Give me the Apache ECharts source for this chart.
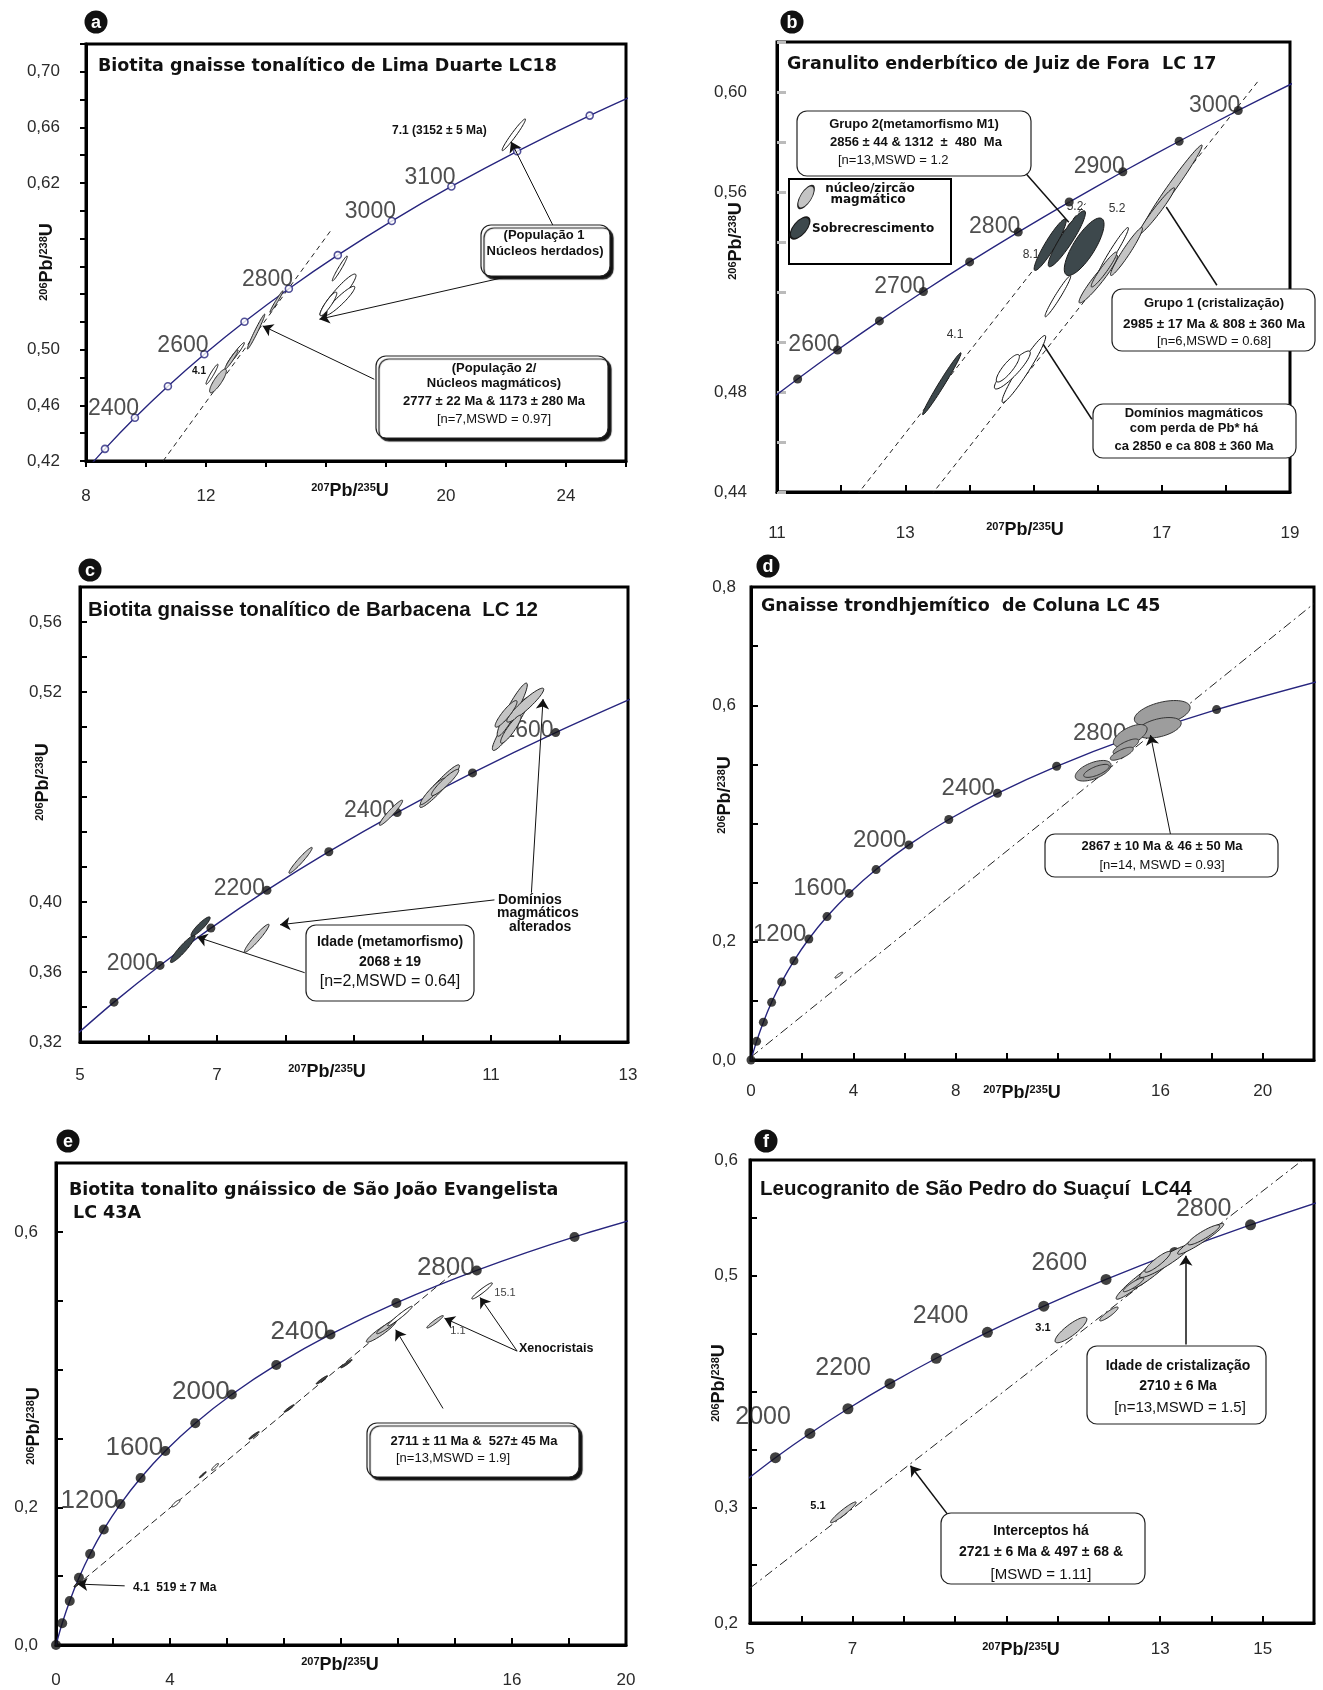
<!DOCTYPE html>
<html>
<head>
<meta charset="utf-8">
<script src="https://cdn.jsdelivr.net/npm/echarts@6.0.0/dist/echarts.min.js"></script>
<style>
  html, body { margin: 0; padding: 0; background: #fff; }
  #chart { width: 1323px; height: 1690px; }
</style>
</head>
<body>
<div id="chart"></div>
<script>
// concordia reference points: age (Ma), 207Pb/235U, 206Pb/238U
const AGE = [0, 200, 400, 600, 800, 1000, 1200, 1400, 1600, 1800, 1900, 2000, 2100, 2200, 2300, 2400, 2500, 2550, 2600, 2650, 2700, 2750, 2800, 2850, 2900, 2950, 3000, 3050, 3100, 3200, 3300, 3400];
const PB207_U235 = [0, 0.2177, 0.4828, 0.8056, 1.1987, 1.6774, 2.2603, 2.9701, 3.8344, 4.8869, 5.4962, 6.1683, 6.9105, 7.7292, 8.6326, 9.6300, 10.730, 11.322, 11.944, 12.597, 13.283, 14.004, 14.762, 15.557, 16.393, 17.271, 18.193, 19.162, 20.180, 22.372, 24.790, 27.460];
const PB206_U238 = [0, 0.03151, 0.06402, 0.09754, 0.13213, 0.16780, 0.20461, 0.24256, 0.28172, 0.32210, 0.34278, 0.36375, 0.38509, 0.40674, 0.42873, 0.45109, 0.47375, 0.48522, 0.49679, 0.50845, 0.52019, 0.53203, 0.54396, 0.55598, 0.56810, 0.58030, 0.59261, 0.60501, 0.61751, 0.64280, 0.66848, 0.69456];

// --- panel a : Lima Duarte LC18
const aCurveAges = [2200, 2300, 2400, 2500, 2600, 2700, 2800, 2900, 3000, 3100, 3200, 3300, 3400];
const aMarkerAges = [2300, 2400, 2500, 2600, 2700, 2800, 2900, 3000, 3100, 3200, 3300];
const aLabelAges = [2400, 2600, 2800, 3000, 3100];
const aXLabels = [8, 12, 20, 24];
const aYLabels = [0.42, 0.46, 0.50, 0.62, 0.66, 0.70];
// [x, y, half-range x, half-range y, rho, kind]
const aEllipses = [
  [22.26, 0.6547, 0.39, 0.0114, 0.97, 'open'],
  [16.46, 0.5585, 0.25, 0.0090, 0.97, 'open'],
  [16.40, 0.5395, 0.60, 0.0150, 0.93, 'open'],
  [16.46, 0.5352, 0.50, 0.0105, 0.93, 'open'],
  [16.08, 0.5330, 0.28, 0.0085, 0.90, 'open'],
  [14.35, 0.5347, 0.22, 0.0078, 0.98, 'light'],
  [13.67, 0.5131, 0.29, 0.0126, 0.98, 'light'],
  [12.98, 0.4968, 0.30, 0.0084, 0.97, 'open'],
  [12.85, 0.4930, 0.22, 0.0070, 0.96, 'light'],
  [12.20, 0.4824, 0.20, 0.0072, 0.95, 'open'],
  [12.40, 0.4776, 0.28, 0.0085, 0.85, 'light']
];
const aDiscordia = [[[10.57, 0.42], [16.2, 0.587]]];
const aArrows = [
  [23.56, 0.5897, 22.17, 0.6497, 1],
  [22.41, 0.5544, 15.78, 0.5220, 1],
  [17.61, 0.4788, 13.89, 0.5172, 1]
];

// --- panel b : Juiz de Fora LC 17
const bCurveAges = [2500, 2550, 2600, 2650, 2700, 2750, 2800, 2850, 2900, 2950, 3000, 3050];
const bMarkerAges = [2550, 2600, 2650, 2700, 2750, 2800, 2850, 2900, 2950, 3000];
const bLabelAges = [2600, 2700, 2800, 2900, 3000];
const bXLabels = [11, 13, 17, 19];
const bYLabels = [0.44, 0.48, 0.56, 0.60];
const bEllipses = [
  [17.17, 0.5623, 0.46, 0.0165, 0.985, 'light'],
  [16.92, 0.5524, 0.28, 0.0093, 0.97, 'light'],
  [16.45, 0.5362, 0.25, 0.0096, 0.96, 'light'],
  [16.01, 0.5252, 0.30, 0.0096, 0.95, 'light'],
  [16.23, 0.5355, 0.25, 0.0103, 0.97, 'open'],
  [16.10, 0.5290, 0.20, 0.0070, 0.95, 'light'],
  [15.38, 0.5183, 0.20, 0.0082, 0.97, 'open'],
  [14.85, 0.4892, 0.34, 0.0134, 0.96, 'open'],
  [14.67, 0.4888, 0.28, 0.0076, 0.90, 'open'],
  [14.60, 0.4895, 0.18, 0.0055, 0.85, 'open'],
  [13.57, 0.4833, 0.30, 0.0124, 0.985, 'dark'],
  [15.26, 0.5389, 0.25, 0.0103, 0.93, 'dark'],
  [15.52, 0.5413, 0.29, 0.0112, 0.92, 'dark'],
  [15.79, 0.5381, 0.31, 0.0115, 0.78, 'dark']
];
const bDiscordia = [[[12.24, 0.4386], [15.81, 0.5554]], [[13.40, 0.4386], [18.52, 0.6049]]];
const bArrows = [
  [14.49, 0.5788, 15.55, 0.5479, 0],
  [17.86, 0.5227, 17.07, 0.5540, 0],
  [15.91, 0.4691, 15.15, 0.4991, 0]
];

// --- panel c : Barbacena LC 12
const cCurveAges = [1800, 1900, 2000, 2100, 2200, 2300, 2400, 2500, 2600, 2700];
const cMarkerAges = [1900, 2000, 2100, 2200, 2300, 2400, 2500, 2600];
const cLabelAges = [2000, 2200, 2400, 2600];
const cXLabels = [5, 7, 11, 13];
const cYLabels = [0.32, 0.36, 0.40, 0.52, 0.56];
const cEllipses = [
  [6.50, 0.3732, 0.18, 0.0078, 0.93, 'dark'],
  [6.76, 0.3860, 0.14, 0.0055, 0.90, 'dark'],
  [7.58, 0.3793, 0.18, 0.0080, 0.95, 'light'],
  [8.22, 0.4238, 0.17, 0.0074, 0.96, 'light'],
  [9.54, 0.4510, 0.17, 0.0072, 0.95, 'light'],
  [10.25, 0.4662, 0.29, 0.0122, 0.95, 'light'],
  [10.15, 0.4632, 0.18, 0.0075, 0.93, 'light'],
  [10.33, 0.4683, 0.20, 0.0075, 0.93, 'light'],
  [11.29, 0.5018, 0.27, 0.0152, 0.93, 'light'],
  [11.31, 0.5099, 0.22, 0.0152, 0.93, 'light'],
  [11.50, 0.5125, 0.27, 0.0097, 0.93, 'light'],
  [11.22, 0.5075, 0.16, 0.0076, 0.90, 'light'],
  [11.29, 0.4987, 0.15, 0.0080, 0.90, 'light']
];
const cDiscordia = [];
const cArrows = [
  [8.28, 0.3596, 6.71, 0.3800, 1],
  [11.05, 0.4012, 7.92, 0.3870, 1],
  [11.59, 0.4053, 11.76, 0.5160, 1]
];

// --- panel d : Coluna LC 45
const dCurveAges = [0, 200, 400, 600, 800, 1000, 1200, 1400, 1600, 1800, 2000, 2200, 2400, 2600, 2800, 3000, 3200];
const dMarkerAges = [0, 200, 400, 600, 800, 1000, 1200, 1400, 1600, 1800, 2000, 2200, 2400, 2600, 2800, 3000];
const dLabelAges = [1200, 1600, 2000, 2400, 2800];
const dXLabels = [0, 4, 8, 16, 20];
const dYLabels = [0.0, 0.2, 0.6, 0.8];
const dEllipses = [
  [16.07, 0.5862, 1.09, 0.0218, 0.45, 'mid'],
  [15.94, 0.5618, 0.87, 0.0174, 0.45, 'mid'],
  [14.82, 0.5485, 0.66, 0.0189, 0.60, 'mid'],
  [14.65, 0.5300, 0.50, 0.0130, 0.75, 'mid'],
  [14.49, 0.5180, 0.45, 0.0110, 0.75, 'mid'],
  [13.37, 0.4892, 0.70, 0.0174, 0.55, 'mid'],
  [13.50, 0.4890, 0.50, 0.0110, 0.70, 'mid'],
  [3.43, 0.1435, 0.15, 0.0050, 0.90, 'open']
];
const dDiscordia = [[[0, 0.005], [22, 0.772]]];
const dArrows = [[16.39, 0.3822, 15.61, 0.5497, 1]];

// --- panel e : Sao Joao Evangelista LC 43A
const eCurveAges = [0, 200, 400, 600, 800, 1000, 1200, 1400, 1600, 1800, 2000, 2200, 2400, 2600, 2800, 3000, 3200];
const eMarkerAges = [0, 200, 400, 600, 800, 1000, 1200, 1400, 1600, 1800, 2000, 2200, 2400, 2600, 2800, 3000];
const eLabelAges = [1200, 1600, 2000, 2400, 2800];
const eXLabels = [0, 4, 16, 20];
const eYLabels = [0.0, 0.2, 0.6];
const eEllipses = [
  [11.41, 0.4553, 0.52, 0.0156, 0.93, 'light'],
  [11.65, 0.4640, 0.40, 0.0120, 0.95, 'light'],
  [12.07, 0.4777, 0.43, 0.0143, 0.97, 'open'],
  [10.19, 0.4085, 0.20, 0.0060, 0.95, 'black'],
  [9.33, 0.3850, 0.20, 0.0060, 0.95, 'black'],
  [8.18, 0.3435, 0.18, 0.0055, 0.95, 'black'],
  [6.95, 0.3044, 0.18, 0.0055, 0.95, 'black'],
  [5.58, 0.2586, 0.12, 0.0050, 0.90, 'open'],
  [5.15, 0.2472, 0.12, 0.0045, 0.95, 'black'],
  [4.21, 0.2056, 0.14, 0.0050, 0.85, 'open'],
  [0.75, 0.0885, 0.12, 0.0045, 0.90, 'black'],
  [14.95, 0.5142, 0.36, 0.0117, 0.95, 'open'],
  [13.30, 0.4694, 0.29, 0.0091, 0.95, 'light']
];
const eDiscordia = [[[0.68, 0.085], [13.9, 0.539]]];
const eArrows = [
  [16.18, 0.4268, 14.88, 0.5048, 1],
  [16.18, 0.4268, 13.63, 0.4746, 1],
  [13.58, 0.3435, 11.92, 0.4579, 1],
  [2.41, 0.0859, 0.75, 0.0885, 1]
];

// --- panel f : Sao Pedro do Suacui LC44
const fCurveAges = [1800, 1900, 2000, 2100, 2200, 2300, 2400, 2500, 2600, 2700, 2800, 2900];
const fMarkerAges = [1900, 2000, 2100, 2200, 2300, 2400, 2500, 2600, 2700, 2800];
const fLabelAges = [2000, 2200, 2400, 2600, 2800];
const fXLabels = [5, 7, 13, 15];
const fYLabels = [0.2, 0.3, 0.5, 0.6];
const fEllipses = [
  [6.82, 0.2956, 0.25, 0.0090, 0.95, 'light'],
  [11.26, 0.4531, 0.31, 0.0110, 0.85, 'light'],
  [12.00, 0.4670, 0.18, 0.0060, 0.90, 'light'],
  [12.57, 0.4953, 0.43, 0.0156, 0.95, 'light'],
  [12.89, 0.5053, 0.45, 0.0164, 0.95, 'light'],
  [13.09, 0.5125, 0.49, 0.0140, 0.93, 'light'],
  [13.79, 0.5319, 0.45, 0.0133, 0.95, 'light'],
  [13.85, 0.5353, 0.31, 0.0086, 0.90, 'light'],
  [12.95, 0.5120, 0.25, 0.0090, 0.90, 'light'],
  [12.48, 0.4922, 0.20, 0.0060, 0.90, 'light']
];
const fDiscordia = [[[5, 0.2302], [15.78, 0.6]]];
const fArrows = [
  [13.50, 0.4406, 13.50, 0.5172, 1],
  [8.91, 0.2906, 8.13, 0.3359, 1]
];

// ---------------------------------------------------------------
const SANS = "'Liberation Sans', Arial, sans-serif";
const WIDE = "'DejaVu Sans', sans-serif";
const CURVE = '#27257e';
const ELL = {
  open: { fill: '#ffffff', stroke: '#111', lw: 1 },
  light: { fill: '#c4c4c4', stroke: '#222', lw: 1 },
  dark: { fill: '#3d484c', stroke: '#1a1a1a', lw: 1 },
  mid: { fill: '#9d9d9d', stroke: '#333', lw: 1 },
  black: { fill: '#444', stroke: '#111', lw: 1 }
};

function conc(age) {
  const i = AGE.indexOf(age);
  return [PB207_U235[i], PB206_U238[i]];
}
function near(list, v) {
  return list.some(s => Math.abs(s - v) < 1e-6);
}

const panels = [
  { box: [86, 44, 626, 461], x: [8, 26, 2], y: [0.42, 0.72, 0.02], dec: 2, tickIn: false, xm: 27, ym: 26,
    curve: aCurveAges, markers: aMarkerAges, labels: aLabelAges, xl: aXLabels, yl: aYLabels,
    ell: aEllipses, disc: aDiscordia, arrows: aArrows, open: true, msize: 7, lfs: 23, loff: [8.5, -9], dash: [5, 4] },
  { box: [777, 42, 1290, 492], x: [11, 19, 1], y: [0.44, 0.62, 0.02], dec: 2, tickIn: true, xm: 33, ym: 30, ytickColor: '#bbb',
    curve: bCurveAges, markers: bMarkerAges, labels: bLabelAges, xl: bXLabels, yl: bYLabels,
    ell: bEllipses, disc: bDiscordia, arrows: bArrows, open: false, msize: 9, lfs: 23, loff: [6.5, -5], dash: [5, 4], arrowW: 1.5 },
  { box: [80, 587, 628, 1042], x: [5, 13, 1], y: [0.32, 0.58, 0.02], dec: 2, tickIn: true, xm: 25, ym: 18,
    curve: cCurveAges, markers: cMarkerAges, labels: cLabelAges, xl: cXLabels, yl: cYLabels,
    ell: cEllipses, disc: cDiscordia, arrows: cArrows, open: false, msize: 9, lfs: 23, loff: [2.5, -2], dash: [5, 4] },
  { box: [751, 587, 1314, 1060], x: [0, 22, 2], y: [0, 0.8, 0.1], dec: 1, tickIn: true, xm: 23, ym: 15,
    curve: dCurveAges, markers: dMarkerAges, labels: dLabelAges, xl: dXLabels, yl: dYLabels,
    ell: dEllipses, disc: dDiscordia, arrows: dArrows, open: false, msize: 9, lfs: 24, loff: [2, -5], dash: [9, 4, 2, 4] },
  { box: [56, 1163, 626, 1645], x: [0, 20, 2], y: [0, 0.7, 0.1], dec: 1, tickIn: true, xm: 27, ym: 18,
    curve: eCurveAges, markers: eMarkerAges, labels: eLabelAges, xl: eXLabels, yl: eYLabels,
    ell: eEllipses, disc: eDiscordia, arrows: eArrows, open: false, msize: 10, lfs: 26, loff: [3, -3], dash: [7, 4] },
  { box: [750, 1160, 1314, 1623], x: [5, 16, 1], y: [0.2, 0.6, 0.05], dec: 1, tickIn: true, xm: 18, ym: 12,
    curve: fCurveAges, markers: fMarkerAges, labels: fLabelAges, xl: fXLabels, yl: fYLabels,
    ell: fEllipses, disc: fDiscordia, arrows: fArrows, open: false, msize: 11, lfs: 25, loff: [-13.5, -16], dash: [9, 4, 2, 4], arrowW: 1.5 }
];

const grids = [], xAxes = [], yAxes = [], series = [];
panels.forEach((c, p) => {
  const [L, T, R, B] = c.box;
  grids.push({ left: L, top: T, width: R - L, height: B - T, show: true, borderColor: '#000', borderWidth: 3,
    backgroundColor: 'transparent', containLabel: false, outerBoundsMode: 'none' });
  const tick = { show: true, inside: c.tickIn, length: c.tickIn ? 7 : 6, lineStyle: { color: '#000', width: 2 } };
  xAxes.push({ gridIndex: p, type: 'value', min: c.x[0], max: c.x[1], interval: c.x[2],
    axisLine: { show: true, onZero: false, lineStyle: { color: '#000', width: 3 } },
    axisTick: tick, splitLine: { show: false },
    axisLabel: { margin: c.xm, fontFamily: SANS, fontSize: 17, color: '#2a2a2a', showMinLabel: true, showMaxLabel: true,
      formatter: v => near(c.xl, v) ? String(Math.round(v)) : '' } });
  yAxes.push({ gridIndex: p, type: 'value', min: c.y[0], max: c.y[1], interval: c.y[2],
    axisLine: { show: true, onZero: false, lineStyle: { color: '#000', width: 3 } },
    axisTick: Object.assign({}, tick, c.ytickColor ? { length: 9, lineStyle: { color: c.ytickColor, width: 3 } } : {}),
    splitLine: { show: false },
    axisLabel: { margin: c.ym, fontFamily: SANS, fontSize: 17, color: '#2a2a2a', showMinLabel: true, showMaxLabel: true,
      formatter: v => near(c.yl, v) ? v.toFixed(c.dec).replace('.', ',') : '' } });

  // concordia curve + annotation arrows
  series.push({
    type: 'line', xAxisIndex: p, yAxisIndex: p, data: c.curve.map(conc), smooth: 0.3, symbol: 'none',
    lineStyle: { color: CURVE, width: 1.4 }, z: 2, silent: true, animation: false, clip: true,
    markLine: {
      silent: true, animation: false, symbolSize: 10, label: { show: false }, emphasis: { disabled: true },
      lineStyle: { color: '#111', width: c.arrowW || 1, type: 'solid' },
      data: c.arrows.map(a => [
        { coord: [a[0], a[1]], symbol: 'none' },
        { coord: [a[2], a[3]], symbol: a[4] ? 'arrow' : 'none' }
      ])
    }
  });
  // discordia lines
  c.disc.forEach(d => series.push({
    type: 'line', xAxisIndex: p, yAxisIndex: p, data: d, symbol: 'none', silent: true, animation: false, z: 2,
    lineStyle: { color: '#222', width: 1, type: c.dash }
  }));
  // age markers
  series.push({
    type: 'scatter', xAxisIndex: p, yAxisIndex: p, z: 3, silent: true, animation: false,
    symbol: 'circle', symbolSize: c.msize,
    itemStyle: c.open ? { color: '#fff', borderColor: CURVE, borderWidth: 1.6 } : { color: '#111' },
    label: { show: false, position: 'left', distance: 0, offset: c.loff, formatter: '{b}',
      fontFamily: SANS, fontSize: c.lfs, color: '#222' },
    data: c.markers.map(a => ({ name: String(a), value: conc(a), label: { show: c.labels.includes(a) } }))
  });
  // error ellipses
  series.push({
    type: 'custom', xAxisIndex: p, yAxisIndex: p, z: 4, silent: true, animation: false,
    data: c.ell.map(e => e.slice(0, 5)),
    renderItem: (params, api) => {
      const e = c.ell[params.dataIndex];
      const st = ELL[e[5]];
      const q = Math.sqrt(1 - e[4] * e[4]);
      const pts = [];
      for (let k = 0; k < 60; k++) {
        const t = k / 60 * 2 * Math.PI;
        pts.push(api.coord([e[0] + e[2] * Math.cos(t), e[1] + e[3] * (e[4] * Math.cos(t) + q * Math.sin(t))]));
      }
      return { type: 'polygon', shape: { points: pts }, style: { fill: st.fill, stroke: st.stroke, lineWidth: st.lw } };
    }
  });
});

// ---------------- text, boxes and panel letters
const G = [];
function txt(x, y, s, font, extra) {
  G.push({ type: 'text', x: x, y: y, z: 110, silent: true,
    style: Object.assign({ text: s, font: font, fill: '#111', align: 'center', verticalAlign: 'middle',
      textAlign: 'center', textVerticalAlign: 'middle' }, extra || {}) });
}
function ltxt(x, y, s, font, extra) {
  txt(x, y, s, font, Object.assign({ align: 'left', textAlign: 'left' }, extra || {}));
}
function box(x1, y1, x2, y2, shadow, r) {
  G.push({ type: 'rect', z: 100, silent: true,
    shape: { x: x1, y: y1, width: x2 - x1, height: y2 - y1, r: r === undefined ? 10 : r },
    style: Object.assign({ fill: '#fff', stroke: '#222', lineWidth: 1.2 },
      shadow ? { shadowColor: '#111', shadowOffsetX: 3, shadowOffsetY: 3, shadowBlur: 1 } : {}) });
}
function letter(x, y, ch) {
  G.push({ type: 'circle', z: 100, silent: true, shape: { cx: x, cy: y, r: 11.5 }, style: { fill: '#111' } });
  txt(x, y + 1, ch, "bold 18px " + SANS, { fill: '#fff' });
}
const RICH = {
  s: { fontSize: 11, fontWeight: 'bold', fontFamily: SANS, verticalAlign: 'top', fill: '#111' },
  m: { fontSize: 18, fontWeight: 'bold', fontFamily: SANS, verticalAlign: 'bottom', fill: '#111' }
};
function xTitle(x, y) {
  G.push({ type: 'text', x: x, y: y, z: 110, silent: true,
    style: { text: '{s|207}{m|Pb/}{s|235}{m|U}', rich: RICH, align: 'center', verticalAlign: 'middle',
      textAlign: 'center', textVerticalAlign: 'middle' } });
}
function yTitle(x, y) {
  G.push({ type: 'text', x: x, y: y, z: 110, silent: true, rotation: Math.PI / 2,
    style: { text: '{s|206}{m|Pb/}{s|238}{m|U}', rich: RICH, align: 'center', verticalAlign: 'middle',
      textAlign: 'center', textVerticalAlign: 'middle' } });
}
const TB = "bold 17.5px " + WIDE;
const TC = "bold 20.5px " + SANS;
const BB = "bold 13px " + SANS;
const BR = "13px " + SANS;

// panel a
letter(96, 22, 'a');
ltxt(98, 66, 'Biotita gnaisse tonalítico de Lima Duarte LC18', TB);
ltxt(392, 131, '7.1 (3152 ± 5 Ma)', "bold 12px " + SANS);
txt(199, 371, '4.1', "bold 10px " + SANS);
box(481, 225, 610, 276, true);
txt(544, 235, '(População 1', BB);
txt(545, 251, 'Núcleos herdados)', BB);
box(376, 356, 608, 438, true);
txt(494, 368, '(População 2/', BB);
txt(494, 383, 'Núcleos magmáticos)', BB);
txt(494, 401, '2777 ± 22 Ma & 1173 ± 280 Ma', BB);
txt(494, 419, '[n=7,MSWD = 0.97]', BR);
xTitle(350, 491); yTitle(47, 262);

// panel b
letter(792, 22, 'b');
ltxt(787, 64, 'Granulito enderbítico de Juiz de Fora  LC 17', TB);
box(797, 111, 1031, 176, false);
txt(914, 124, 'Grupo 2(metamorfismo M1)', BB);
txt(916, 142, '2856 ± 44 & 1312  ±  480  Ma', BB);
ltxt(838, 160, '[n=13,MSWD = 1.2', BR);
box(789, 179, 951, 264, false, 0);
G[G.length - 1].style.lineWidth = 2;
G[G.length - 1].style.stroke = '#000';
G.push({ type: 'circle', z: 105, silent: true, x: 806, y: 197, rotation: -0.55, scaleX: 0.42, scaleY: 1,
  shape: { cx: 0, cy: 0, r: 13 }, style: { fill: '#c4c4c4', stroke: '#222', lineWidth: 2 } });
G.push({ type: 'circle', z: 105, silent: true, x: 800, y: 228, rotation: -0.7, scaleX: 0.5, scaleY: 1,
  shape: { cx: 0, cy: 0, r: 13 }, style: { fill: '#3d484c', stroke: '#1a1a1a', lineWidth: 2 } });
txt(870, 189, 'núcleo/zircão', "bold 12px " + WIDE);
txt(868, 200, 'magmático', "bold 12px " + WIDE);
txt(873, 229, 'Sobrecrescimento', "bold 12px " + WIDE);
box(1112, 289, 1315, 351, false);
txt(1214, 303, 'Grupo 1 (cristalização)', BB);
txt(1214, 324, '2985 ± 17 Ma & 808 ± 360 Ma', "bold 13.5px " + SANS);
txt(1214, 341, '[n=6,MSWD = 0.68]', BR);
box(1093, 404, 1296, 458, false);
txt(1194, 413, 'Domínios magmáticos', BB);
txt(1194, 428, 'com perda de Pb* há', BB);
txt(1194, 446, 'ca 2850 e ca 808 ± 360 Ma', BB);
txt(955, 335, '4.1', "12px " + SANS, { fill: '#333' });
txt(1031, 255, '8.1', "12px " + SANS, { fill: '#333' });
txt(1075, 207, '5.2', "12px " + SANS, { fill: '#333' });
txt(1117, 209, '5.2', "12px " + SANS, { fill: '#333' });
xTitle(1025, 530); yTitle(736, 241);

// panel c
letter(90, 570, 'c');
ltxt(88, 610, 'Biotita gnaisse tonalítico de Barbacena  LC 12', TC);
ltxt(498, 900, 'Domínios', "bold 14px " + SANS);
ltxt(497, 913, 'magmáticos', "bold 14px " + SANS);
ltxt(509, 927, 'alterados', "bold 14px " + SANS);
box(306, 925, 474, 1001, false);
txt(390, 942, 'Idade (metamorfismo)', "bold 14px " + SANS);
txt(390, 962, '2068 ± 19', "bold 14px " + SANS);
txt(390, 982, '[n=2,MSWD = 0.64]', "16px " + SANS);
xTitle(327, 1072); yTitle(43, 782);

// panel d
letter(768, 566, 'd');
ltxt(761, 606, 'Gnaisse trondhjemítico  de Coluna LC 45', TB);
box(1045, 834, 1278, 877, false);
txt(1162, 846, '2867 ± 10 Ma & 46 ± 50 Ma', BB);
txt(1162, 865, '[n=14, MSWD = 0.93]', BR);
xTitle(1022, 1093); yTitle(725, 795);

// panel e
letter(68, 1141, 'e');
ltxt(69, 1190, 'Biotita tonalito gnáissico de São João Evangelista', TB);
ltxt(73, 1213, 'LC 43A', TB);
box(367, 1423, 579, 1477, true);
txt(474, 1441, '2711 ± 11 Ma &  527± 45 Ma', BB);
ltxt(396, 1458, '[n=13,MSWD = 1.9]', BR);
ltxt(519, 1349, 'Xenocristais', "bold 12.5px " + SANS);
txt(505, 1293, '15.1', "11px " + SANS, { fill: '#444' });
txt(458, 1331, '1.1', "11px " + SANS, { fill: '#444' });
ltxt(133, 1588, '4.1  519 ± 7 Ma', "bold 12px " + SANS);
xTitle(340, 1665); yTitle(34, 1426);

// panel f
letter(766, 1141, 'f');
ltxt(760, 1189, 'Leucogranito de São Pedro do Suaçuí  LC44', TC);
box(1087, 1346, 1266, 1424, false);
txt(1178, 1366, 'Idade de cristalização', "bold 14px " + SANS);
txt(1178, 1386, '2710 ± 6 Ma', "bold 14px " + SANS);
txt(1180, 1408, '[n=13,MSWD = 1.5]', "15px " + SANS);
box(941, 1513, 1145, 1584, false);
txt(1041, 1531, 'Interceptos há', "bold 14px " + SANS);
txt(1041, 1552, '2721 ± 6 Ma & 497 ± 68 &', "bold 14px " + SANS);
txt(1041, 1575, '[MSWD = 1.11]', "15px " + SANS);
txt(818, 1506, '5.1', "bold 11px " + SANS);
txt(1043, 1328, '3.1', "bold 11px " + SANS);
xTitle(1021, 1650); yTitle(719, 1383);

const chart = echarts.init(document.getElementById('chart'), null, { renderer: 'canvas' });
chart.setOption({
  backgroundColor: '#fff',
  animation: false,
  grid: grids,
  xAxis: xAxes,
  yAxis: yAxes,
  series: series,
  graphic: { elements: G }
});
</script>
</body>
</html>
